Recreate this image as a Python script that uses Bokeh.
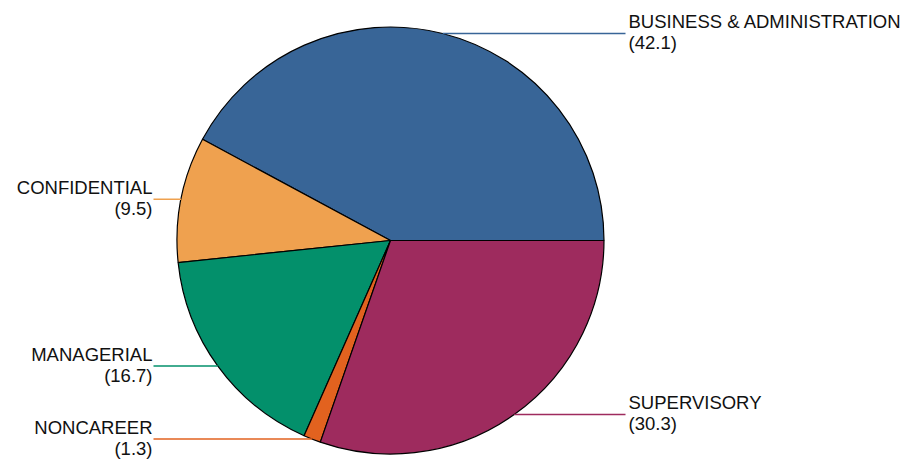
import math
from bokeh.plotting import figure
from bokeh.models import Range1d, ColumnDataSource
from bokeh.core.properties import value
from bokeh.embed import file_html
from bokeh.resources import INLINE

categories = ["BUSINESS & ADMINISTRATION", "CONFIDENTIAL", "MANAGERIAL", "NONCAREER", "SUPERVISORY"]
values = [42.1, 9.5, 16.7, 1.3, 30.3]
colors = ["#386597", "#EFA14F", "#03906B", "#E2621F", "#9E2B5E"]

W, H = 910, 459
cx, cy, r = 390, H - 240, 213.5
x_right_line, x_left_line = 625, 153
x_right_text, x_left_text = 628, 152

total = sum(values)
starts, ends, mids = [], [], []
acc = 0.0
for v in values:
    a0 = acc / total * 2 * math.pi
    acc += v
    a1 = acc / total * 2 * math.pi
    starts.append(a0)
    ends.append(a1)
    mids.append((a0 + a1) / 2)

p = figure(width=W, height=H, output_backend="svg", toolbar_location=None,
           x_range=Range1d(0, W), y_range=Range1d(0, H),
           min_border=0, min_border_left=0, min_border_right=0,
           min_border_top=0, min_border_bottom=0)
p.axis.visible = False
p.grid.visible = False
p.outline_line_color = None

src = ColumnDataSource(dict(start=starts, end=ends, color=colors))
p.wedge(x=cx, y=cy, radius=r, start_angle="start", end_angle="end",
        fill_color="color", line_color="black", line_width=1.2, source=src)

for cat, v, m, c in zip(categories, values, mids, colors):
    sx = cx + r * math.cos(m)
    sy = cy + r * math.sin(m)
    right = math.cos(m) > 0
    ex = x_right_line if right else x_left_line
    p.segment(x0=[sx], y0=[sy], x1=[ex], y1=[sy], line_color=c, line_width=1.5)
    tx = x_right_text if right else x_left_text
    align = "left" if right else "right"
    p.text(x=[tx], y=[sy + 12], text=[cat], text_align=align, text_baseline="middle",
           text_font=value("Liberation Sans"), text_font_size="18.5px", text_color="#111111")
    p.text(x=[tx], y=[sy - 9], text=["(%.1f)" % v], text_align=align, text_baseline="middle",
           text_font=value("Liberation Sans"), text_font_size="18.5px", text_color="#111111")

open("out.html", "w").write(file_html(p, INLINE))
